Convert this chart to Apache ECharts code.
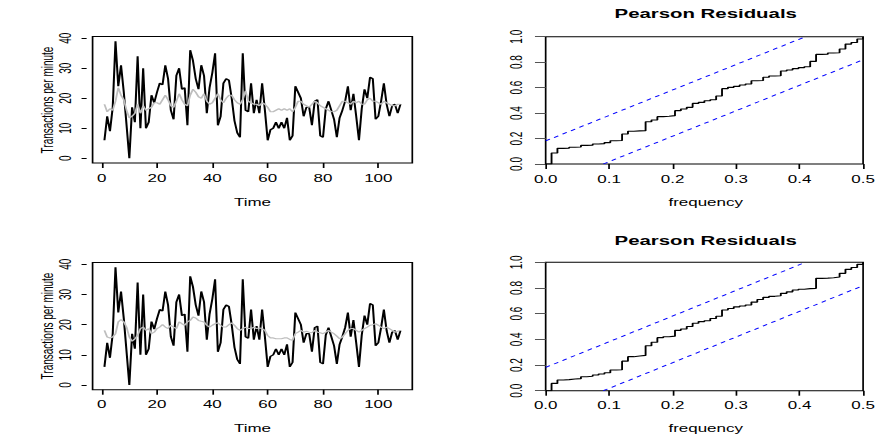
<!DOCTYPE html>
<html><head><meta charset="utf-8">
<script src="https://cdn.jsdelivr.net/npm/echarts@6/dist/echarts.min.js"></script>
<style>
html,body{margin:0;padding:0;background:#fff;overflow:hidden}
#wrap{width:880px;height:439px;overflow:hidden;position:relative}
#c{width:518px;height:439px;transform:scaleX(1.698842);transform-origin:0 0}
</style></head>
<body><div id="wrap"><div id="c"></div></div>
<script>
// ---- data ----
const transactions = [6,14,9,17,39,24,31,22,11,0,17,12,34,10,30,10,12,21,18.5,22,
  25,24.5,31,26.5,16,13,27.5,30,23,23.5,11,36,32.5,26.5,23,31,27.5,15,23.5,28.5,
  35,11,14,25,26.5,26,20,12.5,8.5,7,35,16,15.5,25,15,19.5,15,25,16,6,
  9.5,10,12,10,12,10,13.5,6,7.5,24,22,20,14,17,17,11,19,19.5,7.5,7,
  16.5,19,16,13,7,13.5,16,19,24,16,21.5,14,6,16.5,23,20,27,26.5,13,14,
  19,25,18,14,17.5,18,15,18];
const fittedTop = [18,15.5,16.5,16,19,23.5,21,19.5,16,13.5,14,15,18,15,17.5,16,16.5,17,18.5,18.5,
  18,19.5,21,19.5,17.5,17,19,21.5,19.5,18,17.5,21,23,22,20.5,20,21.5,19,18,18.5,
  20,21.5,19.5,18.5,20,21,21,19.5,18.5,18,19.5,22.5,19,18.5,18,18,17.5,18.5,18,17,
  15.5,15.5,16,16.5,16,16.5,16,16.5,15.5,17,19,19,18,17.5,17,18,19,18.5,17.5,17,
  16.5,16,15.5,15.5,16,17.5,19,19,18.5,18,19,18.5,19,18,18,19.5,20,19,19,18.5,
  18,19,18.5,18,17.5,17.5,18,18];
const fittedBottom = [18.1,15.9,15.6,15.9,17,20.9,21.7,20.9,19.2,15.9,14.5,15.3,16.4,18.7,19.2,18.1,18.7,17,17.5,18.7,
  19.2,20,19.2,18.7,19.8,19.2,18.7,20.9,20.3,19.8,20.9,21.4,22.5,22.2,21.4,21.1,20.9,19.8,19.2,19.8,
  20.3,20.6,19.8,19.2,19.2,20,20.6,19.8,18.7,18.1,18.7,19.2,18.7,18.7,19.2,18.7,18.9,18.7,18.1,16.4,
  15.6,15.6,15.3,15.3,15.3,15.6,15.6,15.1,14.8,17,17.5,18.1,17.5,17.8,17.5,17.3,18.1,17.5,17.3,17,
  17.5,18.1,17.5,17,16.2,15.3,15.9,17,18.1,18.7,18.7,18.1,17.5,18.1,18.7,19.2,19.8,20,20.3,19.8,
  19.2,18.7,19.2,18.7,18.1,17.5,17.8,18.1];
const cumTop = [0,0.086,0.123,0.125,0.131,0.133,0.146,0.148,0.157,0.16,0.168,0.183,0.185,0.236,0.257,0.26,0.262,0.332,0.346,0.372,
  0.375,0.38,0.419,0.432,0.445,0.476,0.484,0.497,0.505,0.534,0.592,0.602,0.61,0.62,0.628,0.654,0.656,0.681,0.691,0.693,
  0.73,0.738,0.749,0.757,0.764,0.806,0.861,0.863,0.872,0.874,0.903,0.942,0.955,0.982,1.0];
const cumBottom = [0,0.057,0.083,0.086,0.091,0.094,0.109,0.112,0.122,0.13,0.14,0.161,0.163,0.23,0.265,0.27,0.275,0.35,0.377,0.413,
  0.42,0.425,0.47,0.48,0.5,0.525,0.538,0.545,0.562,0.58,0.629,0.64,0.653,0.66,0.667,0.69,0.71,0.727,0.735,0.74,
  0.758,0.77,0.784,0.79,0.795,0.797,0.875,0.877,0.88,0.885,0.914,0.945,0.96,0.984,1.0];
const timeTicks = [0,20,40,60,80,100];
const countTicks = [0,10,20,30,40];
const critBound = 0.1815;
const panelTitle = 'Pearson Residuals';
const yTitle = 'Transactions per minute';
const xTitleLeft = 'Time';
const xTitleRight = 'frequency';

// ---- build ----
const nObs = transactions.length;
const tsPairs = arr => arr.map((v, i) => [i + 1, v]);
const cpPairs = arr => arr.map((v, k) => [k / nObs, v]);
const xm = 0.5;
const upperBound = [[0, critBound], [xm * (1 - critBound), 1]];
const lowerBound = [[xm * critBound, 0], [xm, 1 - critBound]];

const FONT = '"Liberation Sans", Arial, sans-serif';
const grids = [
  {left: 54.5, top: 36.5, width: 188.2, height: 126.5},
  {left: 321.2, top: 36.7, width: 188.4, height: 127.3},
  {left: 54.5, top: 262.6, width: 188.2, height: 127.1},
  {left: 321.2, top: 262.3, width: 188.4, height: 128.4}
].map(g => Object.assign({show: true, borderColor: '#000', borderWidth: 1, backgroundColor: 'transparent'}, g));

function timeX(gi) {
  return {gridIndex: gi, type: 'value', min: -3.28, max: 112.28,
    axisLine: {show: false, onZero: false}, splitLine: {show: false},
    axisTick: {show: true, customValues: timeTicks, length: 5, lineStyle: {color: '#000'}},
    axisLabel: {customValues: timeTicks, margin: 10, fontSize: 10, color: '#000', fontFamily: FONT}};
}
function countY(gi) {
  return {gridIndex: gi, type: 'value', min: -1.56, max: 40.56, offset: 3.5,
    axisLine: {show: false, onZero: false}, splitLine: {show: false},
    axisTick: {show: true, customValues: countTicks, length: 3, lineStyle: {color: '#000'}},
    axisLabel: {customValues: countTicks, rotate: 90, margin: 8, fontSize: 10, color: '#000', fontFamily: FONT}};
}
function freqX(gi) {
  return {gridIndex: gi, type: 'value', min: 0, max: 0.5, interval: 0.1,
    axisLine: {show: false, onZero: false}, splitLine: {show: false},
    axisTick: {show: true, length: 5, lineStyle: {color: '#000'}},
    axisLabel: {showMinLabel: true, showMaxLabel: true, margin: 10, fontSize: 10, color: '#000', fontFamily: FONT,
      formatter: v => v.toFixed(1)}};
}
function cumY(gi) {
  return {gridIndex: gi, type: 'value', min: 0, max: 1, interval: 0.2,
    axisLine: {show: false, onZero: false}, splitLine: {show: false},
    axisTick: {show: true, length: 6.3, lineStyle: {color: '#555'}},
    axisLabel: {showMinLabel: true, showMaxLabel: true, rotate: 90, margin: 12.5, fontSize: 10, color: '#000', fontFamily: FONT,
      formatter: v => v.toFixed(1)}};
}

function tsSeries(gi, data, color, w) {
  return {type: 'line', xAxisIndex: gi, yAxisIndex: gi, data: data, symbol: 'none',
    lineStyle: {color: color, width: w}, silent: true};
}
function stepSeries(gi, data) {
  return {type: 'line', step: 'end', xAxisIndex: gi, yAxisIndex: gi, data: data, symbol: 'none',
    lineStyle: {color: '#000', width: 1.1}, silent: true};
}
function boundSeries(gi, data) {
  return {type: 'line', xAxisIndex: gi, yAxisIndex: gi, data: data, symbol: 'none',
    lineStyle: {color: '#0000ff', width: 0.9, type: [3, 3]}, silent: true};
}

function txt(text, x, y, font, rot) {
  return {type: 'text', x: x, y: y, rotation: rot || 0, silent: true,
    style: {text: text, font: font, fill: '#000', align: 'center', verticalAlign: 'middle'}};
}

const chart = echarts.init(document.getElementById('c'), null, {renderer: 'svg', width: 518, height: 439});
chart.setOption({
  animation: false,
  backgroundColor: '#fff',
  grid: grids,
  xAxis: [timeX(0), freqX(1), timeX(2), freqX(3)],
  yAxis: [countY(0), cumY(1), countY(2), cumY(3)],
  series: [
    tsSeries(0, tsPairs(transactions), '#000', 1.2),
    tsSeries(0, tsPairs(fittedTop), '#bebebe', 1.1),
    stepSeries(1, cpPairs(cumTop)),
    boundSeries(1, upperBound),
    boundSeries(1, lowerBound),
    tsSeries(2, tsPairs(transactions), '#000', 1.2),
    tsSeries(2, tsPairs(fittedBottom), '#bebebe', 1.1),
    stepSeries(3, cpPairs(cumBottom)),
    boundSeries(3, upperBound),
    boundSeries(3, lowerBound)
  ],
  graphic: [
    txt(yTitle, 27.7, 100, '10px ' + FONT, Math.PI / 2),
    txt(yTitle, 27.7, 326, '10px ' + FONT, Math.PI / 2),
    txt(xTitleLeft, 148.6, 202, '10px ' + FONT),
    txt(xTitleLeft, 148.6, 428, '10px ' + FONT),
    txt(xTitleRight, 415.4, 202, '10px ' + FONT),
    txt(xTitleRight, 415.4, 428, '10px ' + FONT),
    txt(panelTitle, 415.4, 14, 'bold 12px ' + FONT),
    txt(panelTitle, 415.4, 241, 'bold 12px ' + FONT)
  ]
});
</script>
</body></html>
